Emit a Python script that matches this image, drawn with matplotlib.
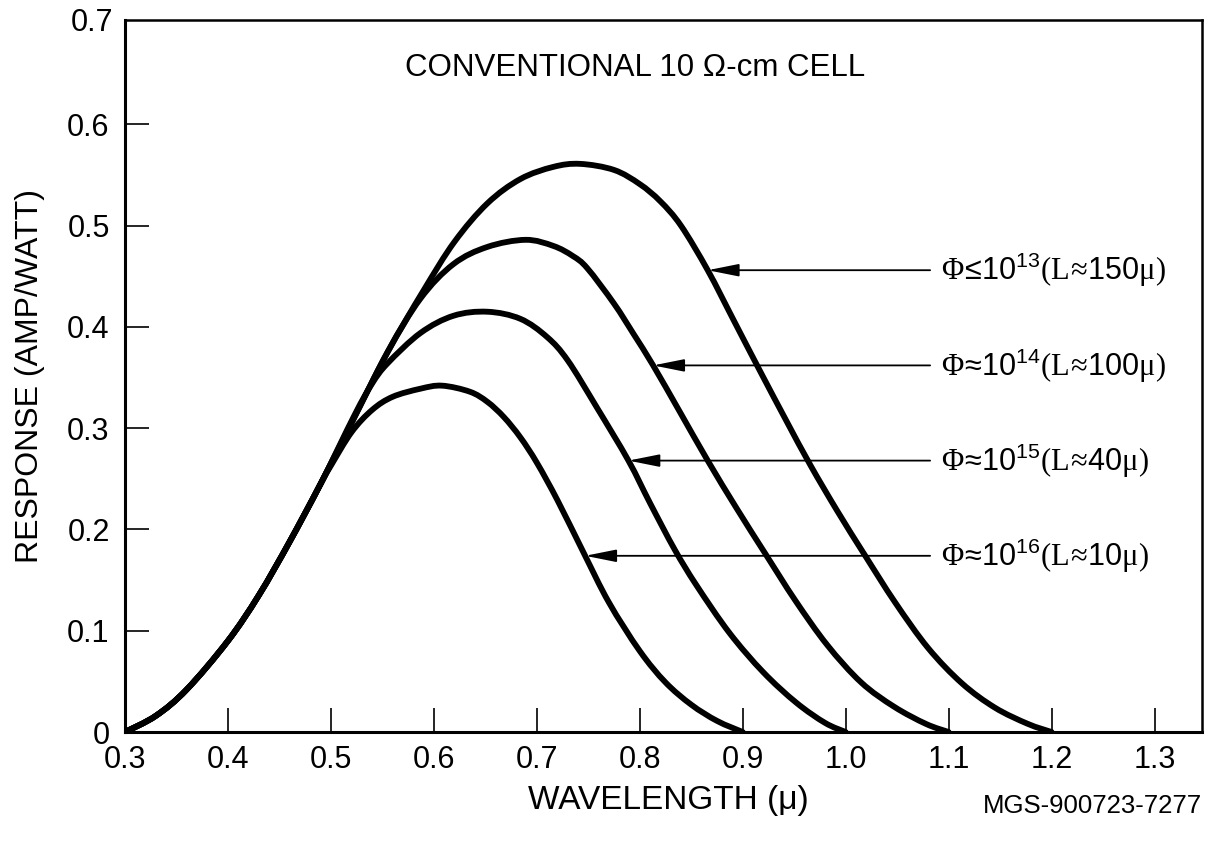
import matplotlib
matplotlib.use("Agg")
import matplotlib.pyplot as plt
from matplotlib.path import Path
from matplotlib.patches import PathPatch

plt.rcParams['font.family'] = ['Liberation Sans', 'DejaVu Sans']
plt.rcParams['mathtext.fontset'] = 'custom'
plt.rcParams['mathtext.rm'] = 'Liberation Sans'
plt.rcParams['mathtext.it'] = 'Liberation Sans:italic'
plt.rcParams['mathtext.bf'] = 'Liberation Sans:bold'
plt.rcParams['mathtext.cal'] = 'Liberation Serif'
plt.rcParams['mathtext.default'] = 'rm'

# ---- data (wavelength in microns, response in A/W) ----
x_l150 = [0.30, 0.33, 0.36, 0.40, 0.43, 0.46, 0.49, 0.52, 0.555, 0.59, 0.62, 0.652,
          0.684, 0.716, 0.742, 0.775, 0.80, 0.82, 0.84, 0.866, 0.891, 0.916, 0.942,
          0.966, 0.992, 1.019, 1.048, 1.08, 1.113, 1.145, 1.177, 1.20]
y_l150 = [0.0, 0.016, 0.042, 0.090, 0.135, 0.188, 0.245, 0.305, 0.375, 0.436, 0.484, 0.522,
          0.546, 0.558, 0.561, 0.555, 0.541, 0.524, 0.500, 0.456, 0.407, 0.358, 0.308,
          0.263, 0.218, 0.174, 0.128, 0.083, 0.048, 0.024, 0.008, 0.0]

x_l100 = [0.30, 0.33, 0.36, 0.40, 0.43, 0.46, 0.49, 0.52, 0.555, 0.587, 0.619, 0.652,
          0.689, 0.716, 0.735, 0.749, 0.775, 0.794, 0.813, 0.839, 0.866, 0.894, 0.922,
          0.951, 0.982, 1.015, 1.047, 1.078, 1.10]
y_l100 = [0.0, 0.016, 0.042, 0.090, 0.135, 0.188, 0.245, 0.305, 0.375, 0.428, 0.462, 0.479,
          0.486, 0.480, 0.470, 0.458, 0.423, 0.393, 0.362, 0.316, 0.268, 0.221, 0.176,
          0.130, 0.086, 0.049, 0.025, 0.008, 0.0]

x_l40 = [0.30, 0.33, 0.36, 0.40, 0.43, 0.46, 0.49, 0.523, 0.54, 0.555, 0.587, 0.619,
         0.652, 0.684, 0.71, 0.73, 0.758, 0.789, 0.81, 0.834, 0.855, 0.887, 0.92,
         0.952, 0.98, 1.00]
y_l40 = [0.0, 0.016, 0.042, 0.090, 0.135, 0.188, 0.245, 0.313, 0.344, 0.364, 0.394, 0.411,
         0.415, 0.408, 0.390, 0.367, 0.321, 0.268, 0.226, 0.180, 0.145, 0.098, 0.059,
         0.029, 0.009, 0.0]

x_l10 = [0.30, 0.33, 0.36, 0.40, 0.43, 0.46, 0.49, 0.50, 0.52, 0.54, 0.56, 0.587,
         0.608, 0.635, 0.652, 0.668, 0.684, 0.70, 0.72, 0.745, 0.77, 0.80, 0.825,
         0.85, 0.875, 0.90]
y_l10 = [0.0, 0.016, 0.042, 0.090, 0.135, 0.188, 0.245, 0.263, 0.296, 0.318, 0.331, 0.339,
         0.342, 0.336, 0.326, 0.311, 0.291, 0.266, 0.229, 0.178, 0.128, 0.080, 0.049,
         0.027, 0.011, 0.0]

curve_labels = [r'$\mathcal{\Phi}\!\leq\!10^{13}\mathcal{(L\!\approx\!}150\mathcal{\mu)}$',
                r'$\mathcal{\Phi}\!\approx\!10^{14}\mathcal{(L\!\approx\!}100\mathcal{\mu)}$',
                r'$\mathcal{\Phi}\!\approx\!10^{15}\mathcal{(L\!\approx\!}40\mathcal{\mu)}$',
                r'$\mathcal{\Phi}\!\approx\!10^{16}\mathcal{(L\!\approx\!}10\mathcal{\mu)}$']
arrow_tip_x = [0.866, 0.813, 0.789, 0.747]
arrow_y = [0.456, 0.362, 0.268, 0.174]

x_ticks = [0.3, 0.4, 0.5, 0.6, 0.7, 0.8, 0.9, 1.0, 1.1, 1.2, 1.3]
x_ticklabels = ['0.3', '0.4', '0.5', '0.6', '0.7', '0.8', '0.9', '1.0', '1.1', '1.2', '1.3']
y_ticks = [0, 0.1, 0.2, 0.3, 0.4, 0.5, 0.6, 0.7]
y_ticklabels = ['0', '0.1', '0.2', '0.3', '0.4', '0.5', '0.6', '0.7']


def smooth_path(xs, ys):
    """Catmull-Rom curve through the given points, as cubic Bezier segments."""
    pts = list(zip(xs, ys))
    verts = [pts[0]]
    codes = [Path.MOVETO]
    n = len(pts)
    for i in range(n - 1):
        p0 = pts[i - 1] if i > 0 else pts[i]
        p1 = pts[i]
        p2 = pts[i + 1]
        p3 = pts[i + 2] if i + 2 < n else pts[i + 1]
        c1 = (p1[0] + (p2[0] - p0[0]) / 6.0, p1[1] + (p2[1] - p0[1]) / 6.0)
        c2 = (p2[0] - (p3[0] - p1[0]) / 6.0, p2[1] - (p3[1] - p1[1]) / 6.0)
        verts += [c1, c2, p2]
        codes += [Path.CURVE4] * 3
    return Path(verts, codes)


# ---- figure ----
fig = plt.figure(figsize=(12.12, 8.5), dpi=100)
ax = fig.add_axes([0.1031, 0.1388, 0.8886, 0.8376])

for xs, ys in [(x_l150, y_l150), (x_l100, y_l100), (x_l40, y_l40), (x_l10, y_l10)]:
    ax.add_patch(PathPatch(smooth_path(xs, ys), fill=False, edgecolor='black', lw=4.2,
                           capstyle='round', joinstyle='round', transform=ax.transData))

ax.set_xlim(0.3, 1.346)
ax.set_ylim(0, 0.703)

ax.set_xticks(x_ticks)
ax.set_xticklabels(x_ticklabels)
ax.set_yticks(y_ticks[:-1])
ax.set_yticklabels(y_ticklabels[:-1])
ax.tick_params(direction='in', length=17, width=1.2, labelsize=22, pad=9)
ax.tick_params(axis='y', pad=11)
ax.text(-0.011, 0.7, y_ticklabels[-1], transform=ax.get_yaxis_transform(),
        ha='right', va='center', fontsize=22)

for side in ['left', 'bottom']:
    ax.spines[side].set_linewidth(2.2)
for side in ['top', 'right']:
    ax.spines[side].set_linewidth(1.8)

# arrows and labels
tail_x = 1.082
for lab, tx, ty in zip(curve_labels, arrow_tip_x, arrow_y):
    ax.annotate('', xy=(tx, ty), xytext=(tail_x, ty),
                arrowprops=dict(arrowstyle='-|>,head_length=1.9,head_width=0.38',
                                lw=1.3, color='black', shrinkA=0, shrinkB=0))
    ax.text(tail_x + 0.011, ty, lab, ha='left', va='center', fontsize=22)

ax.text(0.572, 0.656, 'CONVENTIONAL 10 Ω-cm CELL', ha='left', va='center', fontsize=22.5)

fig.text(30 / 1212, 1 - 376 / 850, 'RESPONSE (AMP/WATT)', rotation=90,
         ha='center', va='center', fontsize=23)
fig.text(668 / 1212, 1 - 800 / 850, 'WAVELENGTH (μ)', ha='center', va='center', fontsize=24)
fig.text(1202 / 1212, 1 - 806 / 850, 'MGS-900723-7277', ha='right', va='center', fontsize=18.5)

fig.savefig('out.png', dpi=100)
